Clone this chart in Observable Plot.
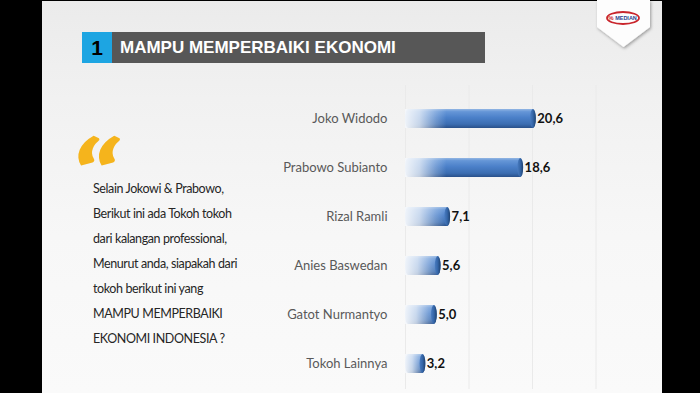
<!DOCTYPE html>
<html><head><meta charset="utf-8">
<script src="https://cdn.jsdelivr.net/npm/d3@7"></script>
<script src="https://cdn.jsdelivr.net/npm/@observablehq/plot@0.6"></script>
<style>
html,body{margin:0;padding:0;}
body{width:700px;height:393px;background:#000;position:relative;overflow:hidden;font-family:Lato,"Open Sans",sans-serif;}
#slide{position:absolute;left:42px;top:1px;width:620px;height:392px;background:linear-gradient(180deg,#ebebeb 0%,#f1f1f1 25%,#f7f7f7 60%,#fafafa 100%);}
#num{position:absolute;left:82px;top:32px;width:30px;height:31px;background:#1da5e2;color:#000;font:bold 21px/31px "Liberation Sans",Arial,sans-serif;text-align:center;}
#titlebar{position:absolute;left:112px;top:32px;width:373px;height:31px;background:#575757;}
#titletext{position:absolute;left:120px;top:32px;height:31px;color:#fff;font:bold 17px/31px "Liberation Sans",Arial,sans-serif;white-space:nowrap;}
#quote{position:absolute;left:71px;top:171px;height:4px;font-family:Lato,sans-serif;font-weight:900;font-size:92px;line-height:4px;color:#f5b41c;transform:scaleX(1.3) skewX(-8deg);transform-origin:0 0;}
#lines{position:absolute;left:93px;top:175.5px;font-size:12.5px;letter-spacing:-0.4px;line-height:25px;color:#262626;white-space:nowrap;}
#chart{position:absolute;left:280px;top:80px;}
#logo{position:absolute;left:594px;top:0px;}
</style>
</head>
<body>
<div id="slide"></div>
<div id="num"></div>
<div id="titlebar"></div>
<div id="titletext"></div>
<div id="quote">&#8220;</div>
<div id="lines"></div>
<svg id="logo" width="64" height="54">
  <defs><filter id="sh" x="-20%" y="-20%" width="140%" height="140%"><feDropShadow dx="1" dy="1.5" stdDeviation="1.5" flood-color="#000" flood-opacity="0.35"/></filter></defs>
  <polygon points="3,0 56,0 56,27 29.5,47 3,27" fill="#fdfdfd" filter="url(#sh)"/>
  <ellipse cx="29" cy="18" rx="16" ry="6" fill="none" stroke="#c9252c" stroke-width="1.8"/>
  <text x="32" y="20" text-anchor="middle" font-family="Liberation Sans, Arial, sans-serif" font-weight="bold" font-size="5.5" fill="#2a3f8f">MEDIAN</text>
  <text x="17" y="20" text-anchor="middle" font-family="Liberation Sans, Arial, sans-serif" font-weight="bold" font-size="6" fill="#c9252c">%</text>
</svg>
<div id="chart"></div>
<script>
const sectionNumber = "1";
const titleText = "MAMPU MEMPERBAIKI EKONOMI";
const questionLines = [
  "Selain Jokowi & Prabowo,",
  "Berikut ini ada Tokoh tokoh",
  "dari kalangan professional,",
  "Menurut anda, siapakah dari",
  "tokoh berikut ini yang",
  "MAMPU MEMPERBAIKI",
  "EKONOMI INDONESIA ?"
];
const names = ["Joko Widodo","Prabowo Subianto","Rizal Ramli","Anies Baswedan","Gatot Nurmantyo","Tokoh Lainnya"];
const values = [20.6, 18.6, 7.1, 5.6, 5.0, 3.2];
const gridTicks = [0, 10, 20, 30];

document.getElementById("num").textContent = sectionNumber;
document.getElementById("titletext").textContent = titleText;
document.getElementById("lines").innerHTML = questionLines.map(s => `<div>${s.replace(/&/g,"&amp;")}</div>`).join("");

const data = names.map((name, i) => ({name, value: values[i]}));
const inset = 15;
const fmt = v => v.toFixed(1).replace(".", ",");

const chart = Plot.plot({
  width: 380, height: 313,
  marginLeft: 125, marginRight: 1, marginTop: 13, marginBottom: 4,
  x: {domain: [0, 40], axis: null},
  y: {domain: names, padding: 0, axis: null},
  style: {background: "transparent", fontFamily: "Lato, sans-serif", overflow: "visible"},
  marks: [
    Plot.ruleX(gridTicks, {stroke: "#eaeaea", strokeWidth: 1, insetTop: -8}),
    Plot.barX(data, {y: "name", x: "value", insetTop: inset, insetBottom: inset, fill: "#4a7ec6"}),
    Plot.barX(data, {y: "name", x1: 0, x2: d => Math.min(d.value, 6.5), insetTop: inset, insetBottom: inset, fill: "#ffffff"}),
    Plot.barX(data, {y: "name", x1: d => d.value - 0.9, x2: "value", insetTop: inset, insetBottom: inset, fill: "#2f5e9c"}),
    Plot.text(data, {y: "name", x: "value", dx: 1, text: d => fmt(d.value), textAnchor: "start", fontWeight: "bold", fontSize: 13, fill: "#111111"}),
    Plot.text(data, {y: "name", x: 0, dx: -18, text: "name", textAnchor: "end", fontSize: 13, fill: "#595959"})
  ]
});
document.getElementById("chart").appendChild(chart);

const svg = d3.select(chart.tagName.toLowerCase() === "svg" ? chart : chart.querySelector("svg"));
const defs = svg.insert("defs", ":first-child");
const body = defs.append("linearGradient").attr("id", "gBody").attr("x1", 0).attr("y1", 0).attr("x2", 0).attr("y2", 1);
[[0, "#93b6e3"], [0.14, "#6596d7"], [0.45, "#4b80c9"], [0.8, "#3b6db1"], [1, "#29508a"]]
  .forEach(([o, c]) => body.append("stop").attr("offset", o).attr("stop-color", c));
const fade = defs.append("linearGradient").attr("id", "gFade").attr("x1", 0).attr("y1", 0).attr("x2", 1).attr("y2", 0);
[[0, 0.97], [0.35, 0.75], [0.75, 0.25], [1, 0]]
  .forEach(([o, a]) => fade.append("stop").attr("offset", o).attr("stop-color", "#f4f7fb").attr("stop-opacity", a));
const cap = defs.append("linearGradient").attr("id", "gCap").attr("x1", 0).attr("y1", 0).attr("x2", 1).attr("y2", 0);
[[0, "#4a7cc0"], [0.5, "#3566a8"], [1, "#1f426f"]]
  .forEach(([o, c]) => cap.append("stop").attr("offset", o).attr("stop-color", c));

const barGroups = svg.selectAll('g[aria-label="bar"]').nodes();
d3.select(barGroups[0]).attr("fill", null).selectAll("rect").attr("fill", "url(#gBody)").attr("rx", 3).attr("ry", 9);
d3.select(barGroups[1]).attr("fill", null).selectAll("rect").attr("fill", "url(#gFade)");
d3.select(barGroups[2]).attr("fill", null).selectAll("rect").attr("fill", "url(#gCap)").attr("rx", 3).attr("ry", 9.5);
</script>
</body></html>
